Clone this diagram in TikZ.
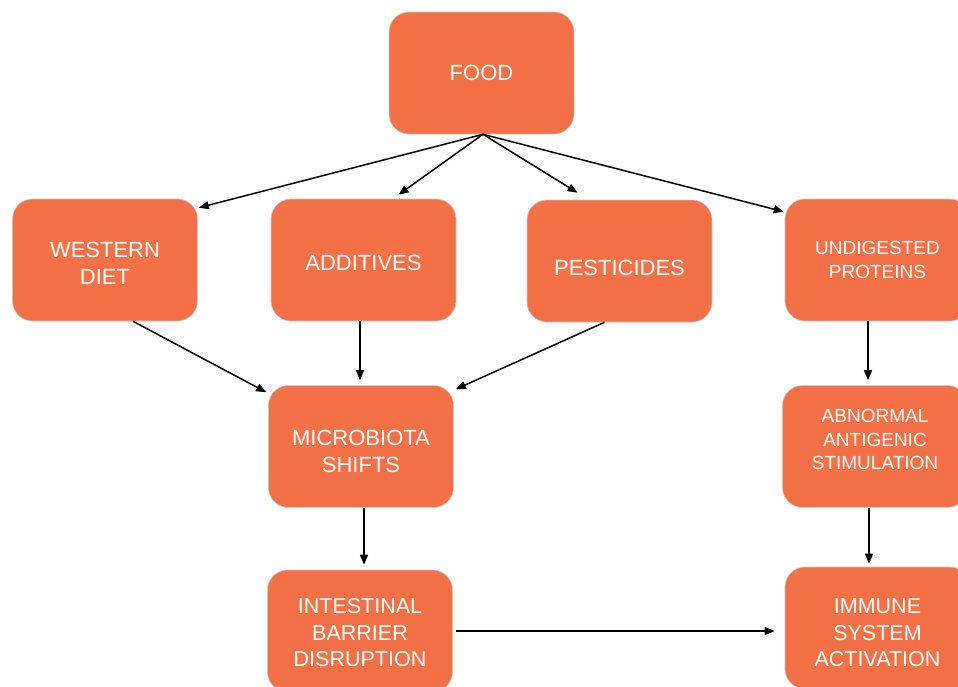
\documentclass[tikz,border=0pt]{standalone}
\usepackage{fontspec}
\setmainfont{Liberation Sans}
\usepackage{xcolor}
\usetikzlibrary{arrows.meta,positioning}
\definecolor{BoxFill}{HTML}{F47046}
\definecolor{BoxEdge}{HTML}{C9C9C9}
\tikzset{
  cause/.style={draw=BoxEdge, line width=.6pt, fill=BoxFill, rounded corners=20pt, minimum width=185pt, minimum height=122pt, align=center, text=white, font=\fontsize{22}{27}\selectfont},
  small/.style={font=\fontsize{19}{23.5}\selectfont},
  mid/.style={font=\fontsize{21.5}{26.5}\selectfont},
  lowertext/.style={text height=#1},
  raisetext/.style={execute at end node={\rule[-#1]{0pt}{0pt}}},
  flow/.style={-{Triangle[length=10pt,width=8pt]}, line width=1.5pt, draw=black},
}
\begin{document}
\begin{tikzpicture}[x=1pt,y=-1pt]
  \useasboundingbox (0,0) rectangle (958,686);
  \clip (0,0) rectangle (958,686);
  % boxes
  \node[cause] (food) at (481.5,73) {FOOD};
  \node[cause, lowertext=49.5pt] (west) at (105,260) {WESTERN\\DIET};
  \node[cause, lowertext=22pt] (add) at (363.5,260) {ADDITIVES};
  \node[cause, lowertext=29.5pt] (pest) at (619.5,261) {PESTICIDES};
  \node[cause, small] (undig) at (877.5,260) {UNDIGESTED\\PROTEINS};
  \node[cause, lowertext=52.5pt] (micro) at (361,446.5) {MICROBIOTA\\SHIFTS};
  \node[cause, small, raisetext=14pt] (abn) at (875,446.5) {ABNORMAL\\ANTIGENIC\\STIMULATION};
  \node[cause, mid, lowertext=71.5pt] (inter) at (360,631) {INTESTINAL\\BARRIER\\DISRUPTION};
  \node[cause, mid, lowertext=77.5pt] (immune) at (877.5,628) {IMMUNE\\SYSTEM\\ACTIVATION};
  % from food
  \draw[flow] ([xshift=1.5pt]food.south) -- ([xshift=1pt,yshift=-9pt]west.north east);
  \draw[flow] ([xshift=1.5pt]food.south) -- ([xshift=35pt,yshift=4pt]add.north);
  \draw[flow] ([xshift=1.5pt]food.south) -- ([xshift=-42pt,yshift=7pt]pest.north);
  \draw[flow] ([xshift=1.5pt]food.south) -- ([xshift=-1pt,yshift=-13pt]undig.north west);
  % into microbiota
  \draw[flow] ([xshift=28pt]west.south) -- ([xshift=-2pt,yshift=-7pt]micro.north west);
  \draw[flow, shorten >=5pt] ([xshift=-3.5pt]add.south) -- ([xshift=-3.5pt]add.south |- micro.north);
  \draw[flow] ([xshift=-15pt]pest.south) -- ([xshift=2pt,yshift=-4pt]micro.north east);
  \draw[flow, shorten >=5pt] ([xshift=3pt]micro.south) -- ([xshift=3pt]micro.south |- inter.north);
  % right column
  \draw[flow, shorten >=5pt] ([xshift=-9.5pt]undig.south) -- ([xshift=-9.5pt]undig.south |- abn.north);
  \draw[flow, shorten >=3pt] ([xshift=-6pt]abn.south) -- ([xshift=-6pt]abn.south |- immune.north);
  \draw[flow, shorten <=3pt, shorten >=10pt] (inter.east) -- (inter.east -| immune.west);
\end{tikzpicture}
\end{document}
